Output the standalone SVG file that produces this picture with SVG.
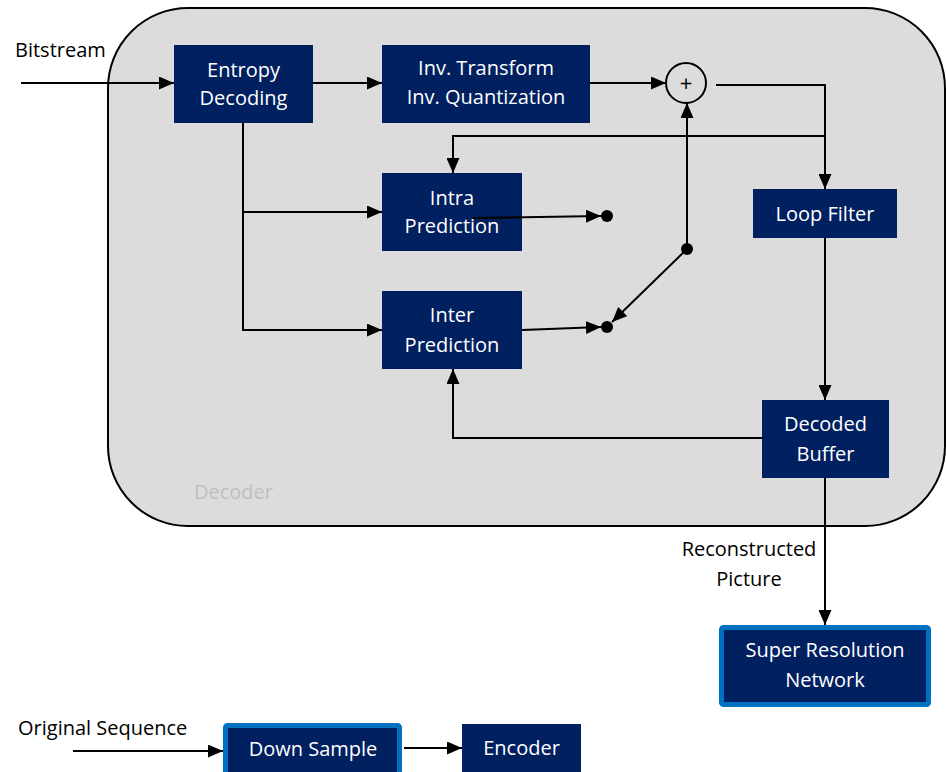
<svg xmlns="http://www.w3.org/2000/svg" width="946" height="772" viewBox="0 0 946 772">
  <style>
    .box { fill: #002060; }
    .hbox { fill: #002060; stroke: #0070C0; stroke-width: 5; }
    .btxt { fill: #ffffff; font-family: "Open Sans", "Noto Sans", sans-serif; font-size: 20px; text-anchor: middle; }
    .lbl { fill: #000000; font-family: "Open Sans", "Noto Sans", sans-serif; font-size: 20px; }
    .wire { fill: none; stroke: #000000; stroke-width: 2; }
    .dot { fill: #000000; }
  </style>
  <defs>
    <marker id="arr" viewBox="0 0 15 13" refX="15" refY="6.5" markerWidth="15" markerHeight="13" markerUnits="userSpaceOnUse" orient="auto">
      <path d="M0,0 L15,6.5 L0,13 Z" fill="#000000"/>
    </marker>
  </defs>

  <!-- decoder container -->
  <g id="decoder">
    <rect x="108" y="8" width="837" height="518" rx="80" ry="80" fill="#DCDCDC" stroke="#000000" stroke-width="2"/>
    <text x="194" y="499" font-family="'Open Sans', 'Noto Sans', sans-serif" font-size="20" fill="#BFBFBF">Decoder</text>
  </g>

  <!-- blocks -->
  <g id="entropy-decoding">
    <rect class="box" x="174" y="45" width="139" height="78"/>
    <text class="btxt" x="243.5" y="77">Entropy</text>
    <text class="btxt" x="243.5" y="105">Decoding</text>
  </g>
  <g id="inv-transform">
    <rect class="box" x="382" y="45" width="208" height="78"/>
    <text class="btxt" x="486" y="75">Inv. Transform</text>
    <text class="btxt" x="486" y="104">Inv. Quantization</text>
  </g>
  <g id="adder">
    <circle cx="686" cy="83" r="20" fill="none" stroke="#000000" stroke-width="2"/>
    <text x="686" y="91" font-family="'Open Sans', 'Noto Sans', sans-serif" font-size="22" text-anchor="middle" fill="#000000">+</text>
  </g>
  <g id="intra-prediction">
    <rect class="box" x="382" y="173" width="140" height="78"/>
    <text class="btxt" x="452" y="205">Intra</text>
    <text class="btxt" x="452" y="233">Prediction</text>
  </g>
  <g id="inter-prediction">
    <rect class="box" x="382" y="291" width="140" height="78"/>
    <text class="btxt" x="452" y="322">Inter</text>
    <text class="btxt" x="452" y="352">Prediction</text>
  </g>
  <g id="loop-filter">
    <rect class="box" x="753" y="189" width="144" height="49"/>
    <text class="btxt" x="825" y="221">Loop Filter</text>
  </g>
  <g id="decoded-buffer">
    <rect class="box" x="762" y="400" width="127" height="78"/>
    <text class="btxt" x="825.5" y="431">Decoded</text>
    <text class="btxt" x="825.5" y="461">Buffer</text>
  </g>
  <g id="super-resolution">
    <rect class="hbox" x="721.5" y="627.5" width="207" height="77" rx="2"/>
    <text class="btxt" x="825" y="657">Super Resolution</text>
    <text class="btxt" x="825" y="687">Network</text>
  </g>
  <g id="down-sample">
    <rect class="hbox" x="225.5" y="725.5" width="174" height="52" rx="2"/>
    <text class="btxt" x="313" y="756">Down Sample</text>
  </g>
  <g id="encoder">
    <rect class="box" x="462" y="724" width="119" height="52"/>
    <text class="btxt" x="521.5" y="755">Encoder</text>
  </g>

  <!-- switch contacts -->
  <g id="switch">
    <circle class="dot" cx="607" cy="216" r="6"/>
    <circle class="dot" cx="607" cy="327" r="6"/>
    <circle class="dot" cx="687" cy="249" r="6"/>
  </g>

  <!-- connectors -->
  <g id="connectors">
    <path class="wire" d="M21,83 H174" marker-end="url(#arr)"/>
    <path class="wire" d="M313,83 H382" marker-end="url(#arr)"/>
    <path class="wire" d="M590,83 H666" marker-end="url(#arr)"/>
    <path class="wire" d="M716,85 H825 V189" marker-end="url(#arr)"/>
    <path class="wire" d="M825,136 H453 V173" marker-end="url(#arr)"/>
    <path class="wire" d="M243,123 V330 H382" marker-end="url(#arr)"/>
    <path class="wire" d="M243,212 H382" marker-end="url(#arr)"/>
    <path class="wire" d="M473,218 L601,216" marker-end="url(#arr)"/>
    <path class="wire" d="M522,330 L601,327" marker-end="url(#arr)"/>
    <path class="wire" d="M687,249 V103" marker-end="url(#arr)"/>
    <path class="wire" d="M687,249 L612,322" marker-end="url(#arr)"/>
    <path class="wire" d="M825,238 V400" marker-end="url(#arr)"/>
    <path class="wire" d="M762,438 H453 V369" marker-end="url(#arr)"/>
    <path class="wire" d="M825,478 V625" marker-end="url(#arr)"/>
    <path class="wire" d="M73,751 H223" marker-end="url(#arr)"/>
    <path class="wire" d="M404,748 H462" marker-end="url(#arr)"/>
  </g>

  <!-- free labels -->
  <g id="labels">
    <text class="lbl" x="15" y="57">Bitstream</text>
    <text class="lbl" x="749" y="556" text-anchor="middle">Reconstructed</text>
    <text class="lbl" x="749" y="586" text-anchor="middle">Picture</text>
    <text class="lbl" x="18" y="735">Original Sequence</text>
  </g>
</svg>
